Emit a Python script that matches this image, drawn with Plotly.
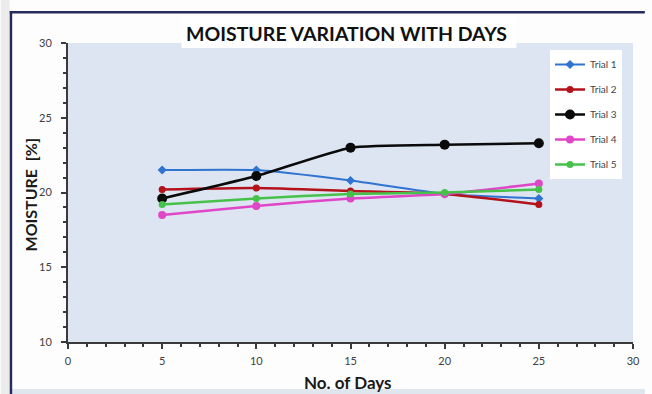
import plotly.graph_objects as go

# Moisture readings (%) taken every five days for five trials
days = [5, 10, 15, 20, 25]
trial_1 = [21.5, 21.5, 20.8, 19.9, 19.6]
trial_2 = [20.2, 20.3, 20.1, 19.9, 19.2]
trial_3 = [19.6, 21.1, 23.0, 23.2, 23.3]
trial_4 = [18.5, 19.1, 19.6, 19.9, 20.6]
trial_5 = [19.2, 19.6, 19.9, 20.0, 20.2]

series = [
    ("Trial 1", trial_1, "#2f74d0", "diamond", 7, 2),
    ("Trial 2", trial_2, "#b3121b", "circle", 7, 2.5),
    ("Trial 3", trial_3, "#0a0a0a", "circle", 10, 2.5),
    ("Trial 4", trial_4, "#e046c8", "circle", 8, 2.5),
    ("Trial 5", trial_5, "#46c24a", "circle", 7, 2.5),
]

FONT = "Lato"
AXIS = "#3a3a3a"

fig = go.Figure()
for i, (name, vals, color, sym, size, lw) in enumerate(series):
    fig.add_trace(go.Scatter(
        x=days, y=vals, name=name, mode="lines+markers",
        line=dict(color=color, width=lw, shape="spline", smoothing=0.5),
        marker=dict(color=color, symbol=sym, size=size),
        legendgroup=f"g{i}",
    ))

# plot area spans x 68..640 px, y 43..342 px
L, R, T, B, W, H = 68, 12, 43, 52, 652, 394
pw, ph = W - L - R, H - T - B


def px(x):
    return (x - L) / pw


def py(y):
    return (H - B - y) / ph


shapes = [
    # grey strip at far left and bluish strip at bottom
    dict(type="rect", xref="paper", yref="paper", x0=px(0), x1=px(9),
         y0=py(394), y1=py(0), fillcolor="#ececec", line_width=0, layer="below"),
    dict(type="rect", xref="paper", yref="paper", x0=px(10), x1=px(652),
         y0=py(394), y1=py(389), fillcolor="#dfe6ee", line_width=0, layer="below"),
    # dark frame along the top and left edges, drawn as filled bands
    dict(type="rect", xref="paper", yref="paper", x0=px(9), x1=px(652),
         y0=py(13.5), y1=py(11), fillcolor="#262b5e", line_width=0, layer="above"),
    dict(type="rect", xref="paper", yref="paper", x0=px(9), x1=px(11.5),
         y0=py(394), y1=py(11), fillcolor="#262b5e", line_width=0, layer="above"),
    # white box behind the chart title
    dict(type="rect", xref="paper", yref="paper", x0=px(183), x1=px(522),
         y0=py(48), y1=py(16), fillcolor="white", line_width=0, layer="above"),
]

annotations = [
    dict(text="<b>MOISTURE VARIATION WITH DAYS</b>", xref="paper", yref="paper",
         x=px(350), y=py(33), xanchor="center", yanchor="middle", showarrow=False,
         font=dict(family=FONT, size=19.5, color="#111111")),
    dict(text="<b>MOISTURE  [%]</b>", xref="paper", yref="paper",
         x=px(30), y=py(195), xanchor="center", yanchor="middle", showarrow=False,
         textangle=-90, font=dict(family=FONT, size=16, color="#1a1a1a")),
    dict(text="<b>No. of Days</b>", xref="paper", yref="paper",
         x=px(351), y=py(382), xanchor="center", yanchor="middle", showarrow=False,
         font=dict(family=FONT, size=17, color="#1a1a1a")),
]

axis_common = dict(
    showgrid=False, zeroline=False, showline=True, linecolor=AXIS, linewidth=2,
    ticks="outside", ticklen=5, tickwidth=1.5, tickcolor=AXIS,
    tickfont=dict(family=FONT, size=11, color="#404040"),
    minor=dict(ticks="outside", ticklen=3, tickcolor=AXIS, dtick=1, showgrid=False),
)

fig.update_layout(
    width=W, height=H,
    margin=dict(l=L, r=R, t=T, b=B),
    paper_bgcolor="#fdfdfd",
    plot_bgcolor="#dce5f1",
    showlegend=True,
    legend=dict(
        x=px(556), y=py(50), xanchor="left", yanchor="top",
        bgcolor="white", borderwidth=0,
        font=dict(family=FONT, size=10, color="#444444"),
        tracegroupgap=6, itemwidth=30,
    ),
    xaxis=dict(range=[0, 30], dtick=5, ticklabelstandoff=3, **axis_common),
    yaxis=dict(range=[10, 30], dtick=5, ticklabelstandoff=7, **axis_common),
    shapes=shapes,
    annotations=annotations,
)

fig.write_html("out.html", config={"displayModeBar": False})
